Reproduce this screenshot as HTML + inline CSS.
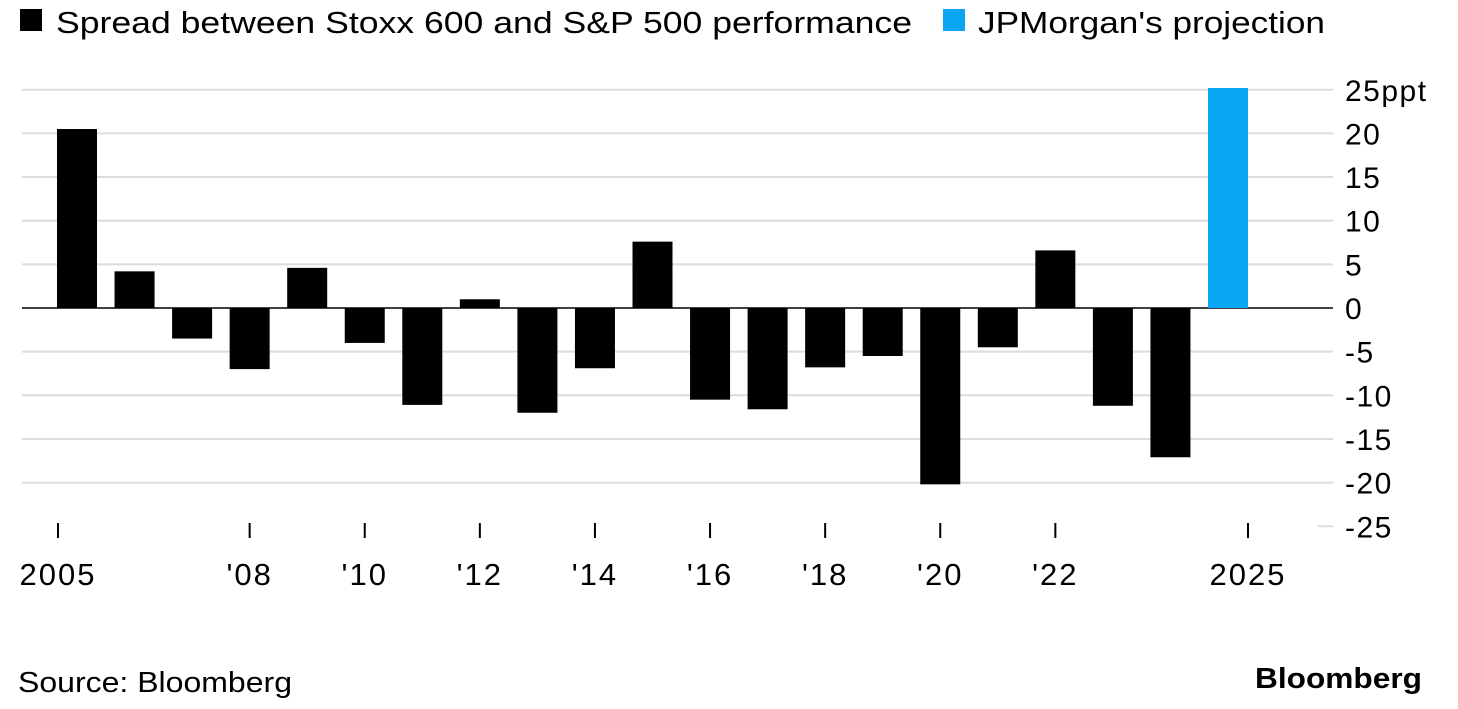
<!DOCTYPE html>
<html><head><meta charset="utf-8"><style>
body{margin:0;background:#fff;font-family:"Liberation Sans",sans-serif}
svg{display:block}
</style></head><body>
<svg id="chart" width="1458" height="709">
<g>
<rect x="20" y="9" width="22" height="22" fill="#000"/>
<text x="56" y="33" font-size="31" textLength="856" lengthAdjust="spacingAndGlyphs" fill="#000">Spread between Stoxx 600 and S&amp;P 500 performance</text>
<rect x="943" y="9" width="22" height="22" fill="#0aa5f5"/>
<text x="978" y="33" font-size="31" textLength="347" lengthAdjust="spacingAndGlyphs" fill="#000">JPMorgan's projection</text>
</g>
<g id="grid"></g><g id="bars"></g><g id="xaxis"></g>
<text x="18" y="692" font-size="29" textLength="274" lengthAdjust="spacingAndGlyphs" fill="#000">Source: Bloomberg</text>
<text x="1255" y="688" font-size="29" font-weight="bold" textLength="167" lengthAdjust="spacingAndGlyphs" fill="#000">Bloomberg</text>
</svg>
<script>
const years=[2005,2006,2007,2008,2009,2010,2011,2012,2013,2014,2015,2016,2017,2018,2019,2020,2021,2022,2023,2024,2025];
const spreads=[20.5,4.2,-3.5,-7,4.6,-4,-11.1,1.0,-12,-6.9,7.6,-10.5,-11.6,-6.8,-5.5,-20.2,-4.5,6.6,-11.2,-17.1,25.2];
const projected=[false,false,false,false,false,false,false,false,false,false,false,false,false,false,false,false,false,false,false,false,true];
const yTicks=[25,20,15,10,5,0,-5,-10,-15,-20,-25];
const yTickLabels=["25ppt","20","15","10","5","0","-5","-10","-15","-20","-25"];
const xTickYears=[2005,2008,2010,2012,2014,2016,2018,2020,2022,2025];
const xTickLabels=["2005","'08","'10","'12","'14","'16","'18","'20","'22","2025"];
const NS="http://www.w3.org/2000/svg";
const y=v=>308-v*8.73;
const x=yr=>77+(yr-2005)*57.55;
function mk(t,a,p){const e=document.createElementNS(NS,t);for(const k in a)e.setAttribute(k,a[k]);p.appendChild(e);return e;}
const grid=document.getElementById('grid');
yTicks.forEach((v,i)=>{
 const l=mk('line',{x1:22,x2:1333,y1:y(v),y2:y(v),stroke:v===0?'#000':'#dcdcdc','stroke-width':v===0?1.5:2},grid);
 
 
 if(v===-25){l.setAttribute('x1',1318);}
 const t=mk('text',{x:1345,y:y(v)+11,'font-size':30,'letter-spacing':1.5,fill:'#000'},grid);
 t.textContent=yTickLabels[i];
 
 
});
const bars=document.getElementById('bars');
years.forEach((yr,i)=>{
 const v=spreads[i];
 const r=mk('rect',{x:x(yr)-20,width:40,y:Math.min(y(v),y(0)),height:Math.abs(y(v)-y(0)),fill:projected[i]?'#0aa5f5':'#000'},bars);
 
 
});
const xa=document.getElementById('xaxis');
xTickYears.forEach((yr,i)=>{
 let cx=x(yr);
 if(yr===2005)cx-=19;
 if(yr===2025)cx+=20;
 const tk=mk('line',{x1:cx,x2:cx,y1:523,y2:538,stroke:'#000','stroke-width':2},xa);
 
 
 const t=mk('text',{x:cx,y:585,'font-size':31,'letter-spacing':2,'text-anchor':'middle',fill:'#000'},xa);
 t.textContent=xTickLabels[i];
 
 
});
</script>
</body></html>
